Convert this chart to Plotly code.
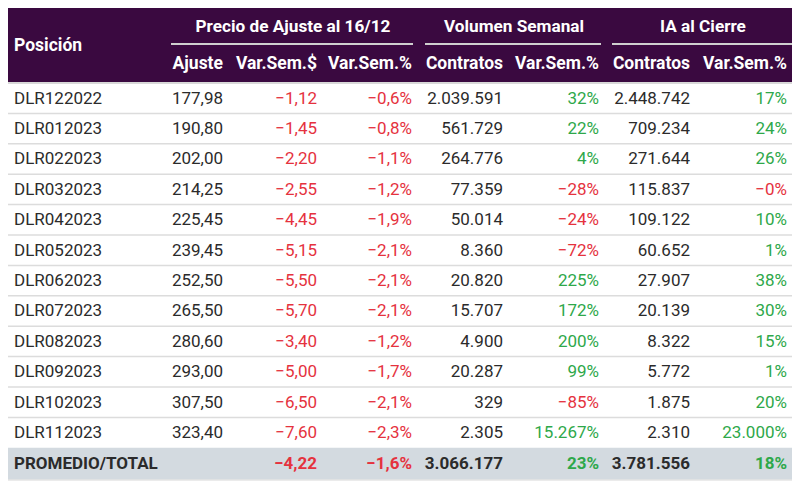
import plotly.graph_objects as go

# ---------------- data ----------------
positions = ["DLR122022", "DLR012023", "DLR022023", "DLR032023", "DLR042023", "DLR052023",
             "DLR062023", "DLR072023", "DLR082023", "DLR092023", "DLR102023", "DLR112023"]
ajuste = [177.98, 190.80, 202.00, 214.25, 225.45, 239.45, 252.50, 265.50, 280.60, 293.00, 307.50, 323.40]
var_sem_usd = [-1.12, -1.45, -2.20, -2.55, -4.45, -5.15, -5.50, -5.70, -3.40, -5.00, -6.50, -7.60]
var_sem_pct = [-0.6, -0.8, -1.1, -1.2, -1.9, -2.1, -2.1, -2.1, -1.2, -1.7, -2.1, -2.3]
vol_contratos = [2039591, 561729, 264776, 77359, 50014, 8360, 20820, 15707, 4900, 20287, 329, 2305]
vol_var_pct = [32, 22, 4, -28, -24, -72, 225, 172, 200, 99, -85, 15267]
ia_contratos = [2448742, 709234, 271644, 115837, 109122, 60652, 27907, 20139, 8322, 5772, 1875, 2310]
ia_var_pct = [17, 24, 26, -0.4, 10, 1, 38, 30, 15, 1, 20, 23000]

total_label = "PROMEDIO/TOTAL"
total_var_sem_usd = -4.22
total_var_sem_pct = -1.6
total_vol_contratos = 3066177
total_vol_var_pct = 23
total_ia_contratos = 3781556
total_ia_var_pct = 18

group_headers = ["Precio de Ajuste al 16/12", "Volumen Semanal", "IA al Cierre"]
sub_headers = ["Ajuste", "Var.Sem.$", "Var.Sem.%", "Contratos", "Var.Sem.%", "Contratos", "Var.Sem.%"]
first_header = "Posición"

# ---------------- formatting helpers ----------------
MINUS = "\u2212"

def fmt_dec(v, d):
    s = f"{abs(v):,.{d}f}".replace(",", "X").replace(".", ",").replace("X", ".")
    return (MINUS if v < 0 else "") + s

def fmt_int(v):
    s = f"{abs(v):,.0f}".replace(",", ".")
    return (MINUS if v < 0 else "") + s

def fmt_pct(v, d):
    return fmt_dec(v, d) + "%"

RED = "#e5323e"
GREEN = "#2ea84a"
DARK = "#2b2b2b"
HEAD_BG = "#3a0940"
TOTAL_BG = "#d3dae0"
LINE = "#dcdcdc"

def sign_color(v):
    return RED if v < 0 else GREEN

# ---------------- layout geometry (window pixel coords) ----------------
X0, X1 = 7, 792
HEAD_TOP, HEAD_MID, HEAD_BOT = 8, 44, 82
BODY_TOP = 83
ROW_H = 30.4
TXT_DY = 1.2
n = len(positions)
row_y = [BODY_TOP + ROW_H * (i + 0.5) + TXT_DY for i in range(n)]
total_top = BODY_TOP + ROW_H * n
total_bot = 480
total_y = (total_top + total_bot) / 2 + 0.5

col_right = [223, 317, 412, 503, 599, 690, 787]
group_spans = [(171, 413), (425, 601), (612, 792)]

fig = go.Figure()

shapes = []
shapes.append(dict(type="rect", x0=X0, x1=X1, y0=HEAD_TOP, y1=HEAD_BOT, fillcolor=HEAD_BG,
                   line=dict(width=0), layer="below"))
for (a, b) in group_spans:
    shapes.append(dict(type="line", x0=a, x1=b, y0=HEAD_MID, y1=HEAD_MID,
                       line=dict(color="#cfcfcf", width=2)))
shapes.append(dict(type="line", x0=X0, x1=X1, y0=HEAD_BOT + 1, y1=HEAD_BOT + 1,
                   line=dict(color="#d8d8d8", width=2)))
for i in range(1, n):
    yy = BODY_TOP + ROW_H * i
    shapes.append(dict(type="line", x0=X0, x1=X1, y0=yy, y1=yy, line=dict(color=LINE, width=1.5)))
shapes.append(dict(type="rect", x0=X0, x1=X1, y0=total_top, y1=total_bot, fillcolor=TOTAL_BG,
                   line=dict(width=0), layer="below"))
shapes.append(dict(type="line", x0=X0, x1=X1, y0=total_bot, y1=total_bot, line=dict(color="#e4e4e4", width=1.5)))

FONT = "Roboto"
FS = 17

def add_text(xs, ys, texts, colors, pos, bold=False, size=FS):
    fig.add_trace(go.Scatter(
        x=xs, y=ys, text=[f"<b>{t}</b>" if bold else t for t in texts], mode="text",
        textposition=pos, textfont=dict(family=FONT, size=size, color=colors),
        hoverinfo="skip", showlegend=False, cliponaxis=False))

# header texts
add_text([14], [(HEAD_TOP + HEAD_BOT) / 2 + 1.5], [first_header], ["white"], "middle right", bold=True, size=17.5)
for (a, b), g in zip(group_spans, group_headers):
    add_text([(a + b) / 2 + 1], [28], [g], ["white"], "middle center", bold=True, size=17.2)
add_text(col_right, [64.5] * len(sub_headers), sub_headers, ["white"] * len(sub_headers), "middle left",
         bold=True, size=17.5)

# body columns
add_text([14] * n, row_y, positions, [DARK] * n, "middle right")
cols = [
    ([fmt_dec(v, 2) for v in ajuste], [DARK] * n),
    ([fmt_dec(v, 2) for v in var_sem_usd], [sign_color(v) for v in var_sem_usd]),
    ([fmt_pct(v, 1) for v in var_sem_pct], [sign_color(v) for v in var_sem_pct]),
    ([fmt_int(v) for v in vol_contratos], [DARK] * n),
    ([fmt_pct(v, 0) for v in vol_var_pct], [sign_color(v) for v in vol_var_pct]),
    ([fmt_int(v) for v in ia_contratos], [DARK] * n),
    ([fmt_pct(v, 0) for v in ia_var_pct], [sign_color(v) for v in ia_var_pct]),
]
for xr, (texts, colors) in zip(col_right, cols):
    add_text([xr] * n, row_y, texts, colors, "middle left")

# total row
add_text([14], [total_y], [total_label], [DARK], "middle right", bold=True)
tot_texts = [fmt_dec(total_var_sem_usd, 2), fmt_pct(total_var_sem_pct, 1), fmt_int(total_vol_contratos),
             fmt_pct(total_vol_var_pct, 0), fmt_int(total_ia_contratos), fmt_pct(total_ia_var_pct, 0)]
tot_colors = [sign_color(total_var_sem_usd), sign_color(total_var_sem_pct), DARK,
              sign_color(total_vol_var_pct), DARK, sign_color(total_ia_var_pct)]
add_text(col_right[1:], [total_y] * 6, tot_texts, tot_colors, "middle left", bold=True)

# the page body adds an 8px offset, so the axes are shifted to keep window pixel coordinates
fig.update_layout(
    width=800, height=487, margin=dict(l=0, r=0, t=0, b=0),
    paper_bgcolor="white", plot_bgcolor="white",
    xaxis=dict(range=[8, 808], visible=False, fixedrange=True),
    yaxis=dict(range=[495, 8], visible=False, fixedrange=True),
    shapes=shapes,
)
fig.write_html("out.html")
